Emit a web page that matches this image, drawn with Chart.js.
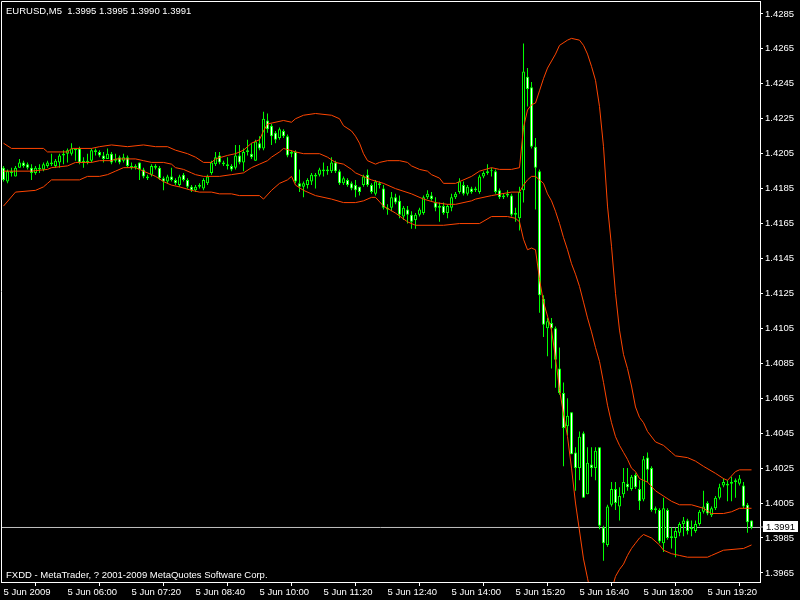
<!DOCTYPE html>
<html>
<head>
<meta charset="utf-8">
<script src="https://cdn.jsdelivr.net/npm/chart.js@4.4.0/dist/chart.umd.min.js"></script>
<style>
html,body{margin:0;padding:0;background:#000;}
canvas{display:block;}
</style>
</head>
<body>
<canvas id="c" width="800" height="600"></canvas>
<script>
// ---------- data ----------
const symbol = 'EURUSD';
const timeframe = 'M5';
const footerText = 'FXDD - MetaTrader, ? 2001-2009 MetaQuotes Software Corp.';

const opens = [
1.4197,1.4189,1.4195,1.4192,1.4197,1.4200,1.4199,1.4197,1.4194,1.4197,
1.4196,1.4198,1.4199,1.4198,1.4200,1.4204,1.4205,1.4205,1.4208,1.4208,
1.4200,1.4200,1.4201,1.4207,1.4206,1.4204,1.4202,1.4205,1.4201,1.4203,
1.4201,1.4203,1.4198,1.4197,1.4200,1.4196,1.4192,1.4193,1.4198,1.4197,
1.4191,1.4189,1.4192,1.4190,1.4187,1.4193,1.4190,1.4186,1.4184,1.4186,
1.4185,1.4188,1.4194,1.4199,1.4204,1.4200,1.4199,1.4198,1.4197,1.4204,
1.4200,1.4206,1.4205,1.4201,1.4211,1.4208,1.4224,1.4221,1.4217,1.4214,
1.4218,1.4215,1.4205,1.4206,1.4188,1.4186,1.4187,1.4189,1.4193,1.4193,
1.4196,1.4195,1.4195,1.4200,1.4195,1.4188,1.4190,1.4188,1.4187,1.4186,
1.4187,1.4193,1.4187,1.4182,1.4188,1.4185,1.4174,1.4174,1.4180,1.4178,
1.4169,1.4173,1.4170,1.4167,1.4170,1.4171,1.4180,1.4181,1.4177,1.4174,
1.4175,1.4171,1.4174,1.4180,1.4183,1.4187,1.4182,1.4185,1.4184,1.4183,
1.4192,1.4194,1.4195,1.4195,1.4184,1.4180,1.4181,1.4181,1.4170,1.4168,
1.4184,1.4249,1.4243,1.4209,1.4195,1.4122,1.4105,1.4108,1.4105,1.4082,
1.4068,1.4049,1.4057,1.4034,1.4025,1.4045,1.4010,1.4027,1.4025,1.4037,
1.3991,1.3981,1.4004,1.4013,1.4003,1.4010,1.4016,1.4013,1.4021,1.4013,
1.4007,1.4031,1.4025,1.4001,1.4001,1.3982,1.4001,1.3985,1.3985,1.3988,
1.3993,1.3995,1.3990,1.3989,1.3993,1.4000,1.4005,1.3998,1.4002,1.4008,
1.4015,1.4015,1.4016,1.4017,1.4016,1.4015,1.4004,1.3995];

const highs = [
1.4198,1.4196,1.4197,1.4198,1.4202,1.4201,1.4200,1.4199,1.4198,1.4199,
1.4200,1.4201,1.4205,1.4202,1.4205,1.4207,1.4208,1.4211,1.4208,1.4209,
1.4203,1.4205,1.4208,1.4208,1.4207,1.4206,1.4208,1.4206,1.4205,1.4204,
1.4205,1.4204,1.4200,1.4199,1.4200,1.4197,1.4193,1.4199,1.4199,1.4198,
1.4192,1.4193,1.4197,1.4191,1.4193,1.4194,1.4191,1.4187,1.4187,1.4188,
1.4191,1.4193,1.4201,1.4206,1.4206,1.4201,1.4203,1.4199,1.4210,1.4210,
1.4208,1.4213,1.4211,1.4213,1.4215,1.4229,1.4228,1.4222,1.4218,1.4220,
1.4219,1.4216,1.4207,1.4207,1.4196,1.4189,1.4191,1.4194,1.4194,1.4197,
1.4200,1.4198,1.4203,1.4201,1.4196,1.4192,1.4191,1.4189,1.4190,1.4186,
1.4193,1.4196,1.4188,1.4190,1.4189,1.4187,1.4176,1.4183,1.4182,1.4181,
1.4175,1.4175,1.4172,1.4171,1.4174,1.4181,1.4184,1.4183,1.4180,1.4177,
1.4177,1.4176,1.4182,1.4183,1.4191,1.4189,1.4187,1.4186,1.4186,1.4193,
1.4195,1.4199,1.4197,1.4196,1.4185,1.4182,1.4184,1.4182,1.4174,1.4186,
1.4268,1.4254,1.4246,1.4214,1.4196,1.4124,1.4111,1.4111,1.4106,1.4094,
1.4074,1.4065,1.4057,1.4037,1.4046,1.4046,1.4037,1.4037,1.4037,1.4037,
1.3992,1.4004,1.4017,1.4017,1.4014,1.4025,1.4025,1.4021,1.4022,1.4018,
1.4032,1.4034,1.4026,1.4003,1.4002,1.4008,1.4002,1.3991,1.3991,1.3994,
1.3997,1.3996,1.3995,1.3995,1.4001,1.4012,1.4006,1.4003,1.4009,1.4016,
1.4019,1.4018,1.4020,1.4019,1.4021,1.4017,1.4005,1.3995];

const lows = [
1.4189,1.4188,1.4192,1.4192,1.4197,1.4197,1.4196,1.4190,1.4193,1.4194,
1.4195,1.4197,1.4198,1.4197,1.4197,1.4199,1.4200,1.4204,1.4201,1.4199,
1.4197,1.4199,1.4200,1.4204,1.4203,1.4200,1.4202,1.4199,1.4200,1.4199,
1.4200,1.4197,1.4196,1.4196,1.4190,1.4191,1.4190,1.4192,1.4196,1.4190,
1.4184,1.4188,1.4189,1.4187,1.4186,1.4189,1.4185,1.4183,1.4183,1.4185,
1.4184,1.4187,1.4193,1.4198,1.4199,1.4198,1.4196,1.4195,1.4196,1.4199,
1.4195,1.4204,1.4202,1.4201,1.4207,1.4207,1.4217,1.4210,1.4211,1.4213,
1.4214,1.4203,1.4203,1.4188,1.4183,1.4180,1.4185,1.4187,1.4185,1.4192,
1.4192,1.4193,1.4194,1.4194,1.4187,1.4187,1.4186,1.4184,1.4180,1.4181,
1.4186,1.4186,1.4182,1.4181,1.4185,1.4173,1.4170,1.4172,1.4176,1.4168,
1.4167,1.4165,1.4162,1.4162,1.4169,1.4170,1.4179,1.4178,1.4172,1.4166,
1.4170,1.4168,1.4172,1.4179,1.4182,1.4181,1.4181,1.4182,1.4183,1.4182,
1.4191,1.4193,1.4192,1.4182,1.4179,1.4179,1.4180,1.4169,1.4166,1.4161,
1.4177,1.4232,1.4208,1.4173,1.4114,1.4100,1.4089,1.4082,1.4071,1.4067,
1.4026,1.4044,1.4033,1.4012,1.4018,1.4008,1.4010,1.4020,1.4018,1.3990,
1.3972,1.3980,1.4003,1.4001,1.3995,1.4008,1.4012,1.4012,1.4013,1.4001,
1.4006,1.4017,1.4000,1.3999,1.3982,1.3977,1.3984,1.3979,1.3974,1.3986,
1.3986,1.3987,1.3986,1.3988,1.3992,1.3999,1.3998,1.3997,1.4001,1.4007,
1.4014,1.4006,1.4006,1.4008,1.4015,1.4002,1.3988,1.3990];

const closes = [
1.4190,1.4195,1.4194,1.4197,1.4200,1.4198,1.4197,1.4194,1.4197,1.4196,
1.4199,1.4200,1.4200,1.4201,1.4204,1.4205,1.4207,1.4208,1.4207,1.4200,
1.4201,1.4201,1.4207,1.4206,1.4204,1.4202,1.4205,1.4200,1.4202,1.4200,
1.4203,1.4198,1.4197,1.4198,1.4196,1.4192,1.4191,1.4198,1.4197,1.4191,
1.4189,1.4192,1.4190,1.4188,1.4192,1.4190,1.4186,1.4184,1.4186,1.4187,
1.4190,1.4192,1.4200,1.4203,1.4200,1.4199,1.4198,1.4196,1.4204,1.4200,
1.4206,1.4207,1.4203,1.4212,1.4208,1.4225,1.4219,1.4215,1.4213,1.4219,
1.4215,1.4204,1.4206,1.4189,1.4186,1.4188,1.4190,1.4193,1.4192,1.4196,
1.4195,1.4196,1.4200,1.4195,1.4188,1.4191,1.4187,1.4185,1.4184,1.4183,
1.4192,1.4187,1.4183,1.4189,1.4187,1.4174,1.4173,1.4180,1.4177,1.4170,
1.4174,1.4170,1.4166,1.4170,1.4173,1.4180,1.4182,1.4179,1.4174,1.4175,
1.4171,1.4175,1.4180,1.4182,1.4189,1.4182,1.4186,1.4183,1.4185,1.4192,
1.4194,1.4195,1.4195,1.4183,1.4180,1.4181,1.4182,1.4170,1.4171,1.4183,
1.4252,1.4242,1.4209,1.4197,1.4124,1.4107,1.4109,1.4105,1.4087,1.4068,
1.4048,1.4055,1.4033,1.4025,1.4043,1.4008,1.4028,1.4025,1.4035,1.3992,
1.3982,1.4003,1.4013,1.4005,1.4009,1.4017,1.4014,1.4020,1.4014,1.4006,
1.4030,1.4024,1.4001,1.4002,1.3983,1.4002,1.3985,1.3986,1.3989,1.3993,
1.3995,1.3989,1.3991,1.3993,1.4000,1.4003,1.3999,1.4002,1.4008,1.4014,
1.4017,1.4016,1.4017,1.4018,1.4019,1.4003,1.3994,1.3991];

// Bollinger band lines (bar index, price)
const upperIdx = [0,2,10,11,16,17,22,24,27,31,35,38,41,43,46,48,50,52,53,56,58,60,62,64,65,66,70,72,73,75,78,82,84,85,87,88,89,90,91,93,94,96,99,101,102,104,106,107,109,110,113,114,117,119,122,124,127,129,130,131,132,133,134,135,136,138,139,141,142,144,145,146,147,148,149,150,151,152,153,154,155,156,157,158,159,160,161,163,165,167,168,171,173,175,178,180,181,183,184,187];
const upperVal = [1.4211,1.4208,1.4208,1.4206,1.4206,1.4208,1.4208,1.4209,1.4210,1.4209,1.4210,1.4209,1.4209,1.4207,1.4205,1.4203,1.4200,1.4200,1.4202,1.4204,1.4205,1.4207,1.4211,1.4213,1.4218,1.4222,1.4224,1.4223,1.4225,1.4227,1.4228,1.4227,1.4225,1.4221,1.4218,1.4215,1.4211,1.4205,1.4201,1.4199,1.4200,1.4201,1.4201,1.4200,1.4198,1.4196,1.4195,1.4193,1.4191,1.4188,1.4188,1.4189,1.4192,1.4195,1.4197,1.4196,1.4196,1.4197,1.4220,1.4230,1.4233,1.4234,1.4241,1.4248,1.4254,1.4262,1.4267,1.4270,1.4271,1.4270,1.4267,1.4262,1.4255,1.4247,1.4232,1.4209,1.4175,1.4152,1.4125,1.4104,1.4090,1.4082,1.4072,1.4060,1.4054,1.4051,1.4046,1.4040,1.4038,1.4034,1.4032,1.4031,1.4029,1.4026,1.4022,1.4019,1.4018,1.4023,1.4024,1.4024];

const middleIdx = [0,7,11,12,16,18,22,24,27,28,33,35,37,40,42,43,45,47,48,50,54,57,60,62,64,66,67,69,70,73,75,79,81,83,85,87,88,90,92,95,98,102,105,108,111,113,117,118,122,127,129,130,131,132,133,134,135,136,137,138,139,140,141,142,143,144,145,146,147,148,149,150,151,152,153,154,155,156,157,158,159,160,161,163,165,167,169,172,175,177,180,182,184,187];
const middleVal = [1.4195,1.4195,1.4196,1.4197,1.4198,1.4200,1.4200,1.4201,1.4201,1.4202,1.4202,1.4201,1.4200,1.4200,1.4199,1.4197,1.4196,1.4194,1.4193,1.4192,1.4192,1.4193,1.4194,1.4197,1.4199,1.4201,1.4203,1.4206,1.4208,1.4206,1.4205,1.4205,1.4203,1.4200,1.4199,1.4196,1.4194,1.4192,1.4190,1.4188,1.4185,1.4182,1.4179,1.4177,1.4176,1.4176,1.4178,1.4179,1.4181,1.4183,1.4183,1.4187,1.4190,1.4192,1.4192,1.4190,1.4188,1.4182,1.4178,1.4172,1.4165,1.4157,1.4150,1.4142,1.4136,1.4129,1.4120,1.4111,1.4103,1.4094,1.4086,1.4074,1.4061,1.4051,1.4043,1.4038,1.4034,1.4030,1.4025,1.4023,1.4019,1.4018,1.4017,1.4012,1.4009,1.4006,1.4004,1.4004,1.4002,1.3999,1.3999,1.4000,1.4002,1.4002];

const lowerIdx = [0,3,8,10,11,12,19,21,24,26,28,30,33,35,37,38,40,42,44,47,49,52,54,57,59,64,65,67,69,71,72,73,75,78,82,85,88,90,92,93,95,98,101,103,110,114,119,122,126,128,129,130,131,132,133,134,135,136,137,138,139,140,141,142,143,144,145,146,147,148,149,150,151,152,153,154,155,156,157,158,159,160,162,164,165,167,169,171,176,177,180,185,187];
const lowerVal = [1.4175,1.4183,1.4184,1.4186,1.4188,1.4190,1.4190,1.4192,1.4192,1.4193,1.4195,1.4197,1.4197,1.4195,1.4193,1.4192,1.4189,1.4187,1.4186,1.4184,1.4183,1.4183,1.4182,1.4182,1.4181,1.4181,1.4179,1.4184,1.4188,1.4190,1.4192,1.4187,1.4184,1.4181,1.4179,1.4177,1.4177,1.4178,1.4180,1.4180,1.4175,1.4171,1.4166,1.4164,1.4164,1.4165,1.4165,1.4169,1.4169,1.4168,1.4166,1.4156,1.4150,1.4151,1.4150,1.4133,1.4120,1.4112,1.4104,1.4088,1.4070,1.4056,1.4043,1.4025,1.4005,1.3989,1.3973,1.3962,1.3951,1.3942,1.3938,1.3936,1.3947,1.3955,1.3963,1.3967,1.3970,1.3975,1.3979,1.3982,1.3985,1.3987,1.3985,1.3981,1.3978,1.3976,1.3975,1.3974,1.3974,1.3975,1.3978,1.3979,1.3981];

const xTickIdx = [0,16,32,48,64,80,96,112,128,144,160,176];
const xTickLabels = ['5 Jun 2009','5 Jun 06:00','5 Jun 07:20','5 Jun 08:40','5 Jun 10:00','5 Jun 11:20','5 Jun 12:40','5 Jun 14:00','5 Jun 15:20','5 Jun 16:40','5 Jun 18:00','5 Jun 19:20'];
const yTickValues = [1.3965,1.3985,1.4005,1.4025,1.4045,1.4065,1.4085,1.4105,1.4125,1.4145,1.4165,1.4185,1.4205,1.4225,1.4245,1.4265,1.4285];

// ---------- chart ----------
const FONT = '"Liberation Sans", Arial, sans-serif';
const FSIZE = 9.5;
const LIME = '#00ff00';
const BAND = '#ff4500';
const n = opens.length;
const last = n - 1;
const lastPrice = closes[last];
const X_MIN = -0.625, X_MAX = 189.125;
const Y_MIN = 1.39598, Y_MAX = 1.42924;

const idx = opens.map((_, i) => i);
const wickData = idx.map(i => ({x: i, y: [lows[i], highs[i]]}));
const bodyData = idx.map(i => ({x: i, y: [opens[i], closes[i]]}));
const bodyFill = idx.map(i => closes[i] > opens[i] ? '#000000' : '#ffffff');
const pairs = (xs, ys) => xs.map((x, k) => ({x: x, y: ys[k]}));

const bgPlugin = {
  id: 'bg',
  beforeDraw(chart) {
    const c = chart.ctx;
    c.save(); c.fillStyle = '#000'; c.fillRect(0, 0, chart.width, chart.height); c.restore();
  }
};
const overlayPlugin = {
  id: 'overlay',
  afterDraw(chart) {
    const c = chart.ctx, a = chart.chartArea;
    c.save();
    c.strokeStyle = '#ffffff'; c.lineWidth = 1;
    c.beginPath();
    c.moveTo(a.left + 0.5, a.bottom); c.lineTo(a.left + 0.5, a.top + 0.5); c.lineTo(a.right + 0.5, a.top + 0.5);
    c.stroke();
    c.font = FSIZE + 'px ' + FONT; c.textBaseline = 'middle'; c.textAlign = 'left';
    c.fillStyle = '#ffffff';
    const f = v => v.toFixed(4);
    c.fillText(symbol + ',' + timeframe + '  ' + f(opens[last]) + ' ' + f(highs[last]) + ' ' + f(lows[last]) + ' ' + f(closes[last]), 6, 11);
    c.fillText(footerText, 6, 575);
    // current price label box
    const py = Math.round(chart.scales.y.getPixelForValue(lastPrice));
    c.fillStyle = '#c0c0c0';
    c.fillRect(a.right, py - 0.5, 3, 1);
    c.fillStyle = '#ffffff';
    c.fillRect(763, py - 6, 35, 11);
    c.fillStyle = '#000000';
    c.fillText(f(lastPrice), 766, py);
    c.restore();
  }
};

new Chart(document.getElementById('c'), {
  type: 'bar',
  data: {
    datasets: [
      {type: 'line', data: [{x: X_MIN, y: lastPrice}, {x: X_MAX, y: lastPrice}], borderColor: '#c0c0c0', borderWidth: 1, pointRadius: 0, order: 4},
      {type: 'bar', data: wickData, backgroundColor: LIME, borderWidth: 0, barThickness: 1, grouped: false, inflateAmount: 0, order: 3},
      {type: 'bar', data: bodyData, backgroundColor: bodyFill, borderColor: LIME, borderWidth: 1, borderSkipped: false, barThickness: 3, grouped: false, minBarLength: 1, inflateAmount: 0, order: 2},
      {type: 'line', data: pairs(upperIdx, upperVal), borderColor: BAND, borderWidth: 1, pointRadius: 0, tension: 0, order: 1},
      {type: 'line', data: pairs(middleIdx, middleVal), borderColor: BAND, borderWidth: 1, pointRadius: 0, tension: 0, order: 1},
      {type: 'line', data: pairs(lowerIdx, lowerVal), borderColor: BAND, borderWidth: 1, pointRadius: 0, tension: 0, order: 1}
    ]
  },
  options: {
    responsive: false,
    animation: false,
    devicePixelRatio: 1,
    layout: {padding: {left: 1, top: 1, right: 0, bottom: 0}},
    plugins: {legend: {display: false}, tooltip: {enabled: false}, title: {display: false}},
    scales: {
      x: {
        type: 'linear', position: 'bottom', min: X_MIN, max: X_MAX, offset: false,
        grid: {display: true, drawOnChartArea: false, drawTicks: true, tickLength: 4, color: '#ffffff'},
        border: {display: true, color: '#ffffff', width: 1},
        ticks: {color: '#ffffff', font: {family: FONT, size: FSIZE}, align: 'start', maxRotation: 0, minRotation: 0, autoSkip: false, padding: 1,
          callback: (v, i) => xTickLabels[i]},
        afterBuildTicks: s => { s.ticks = xTickIdx.map(v => ({value: v})); },
        afterFit: s => { s.height = 18; s.paddingLeft = 0; s.paddingRight = 0; s.paddingTop = 0; s.paddingBottom = 0; }
      },
      y: {
        type: 'linear', position: 'right', min: Y_MIN, max: Y_MAX,
        grid: {display: true, drawOnChartArea: false, drawTicks: true, tickLength: 3, color: '#ffffff'},
        border: {display: true, color: '#ffffff', width: 1},
        ticks: {color: '#ffffff', font: {family: FONT, size: FSIZE}, padding: 2, autoSkip: false,
          callback: v => Number(v).toFixed(4)},
        afterBuildTicks: s => { s.ticks = yTickValues.map(v => ({value: v})); },
        afterFit: s => { s.width = 40; s.paddingLeft = 0; s.paddingRight = 0; s.paddingTop = 0; s.paddingBottom = 0; }
      }
    }
  },
  plugins: [bgPlugin, overlayPlugin]
});
</script>
</body>
</html>
